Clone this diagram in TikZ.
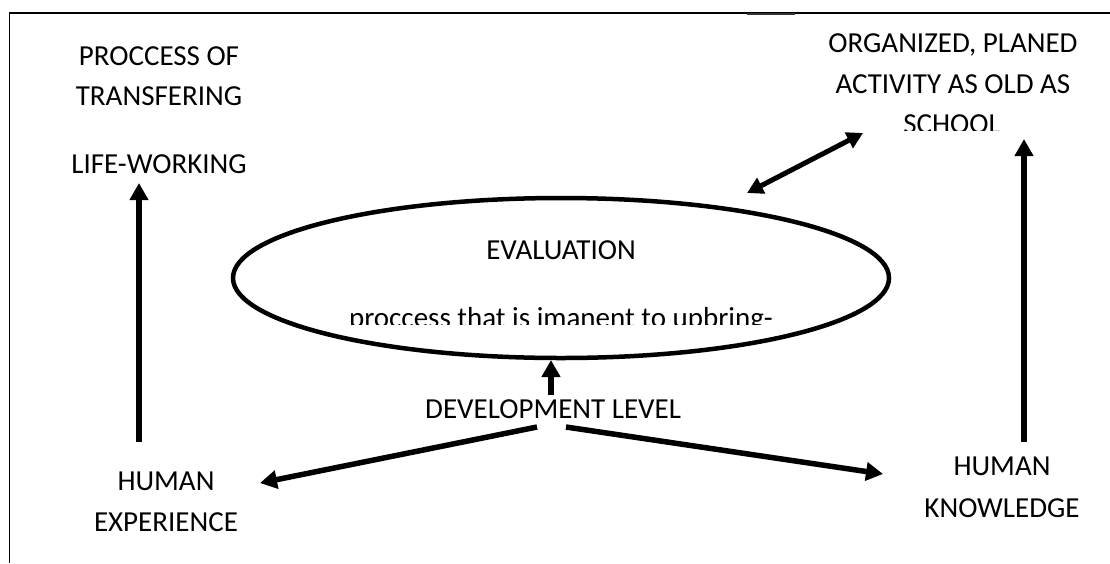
\documentclass[tikz,border=0pt]{standalone}
\usepackage{fontspec}
\setmainfont{Carlito}
\usetikzlibrary{arrows.meta,shapes.geometric}
\begin{document}
\begin{tikzpicture}[x=1pt,y=-1pt,
  txt/.style={font=\fontsize{29}{35}\selectfont, inner sep=0pt, anchor=base},
  arr/.style={line width=5.5pt, -{Triangle[width=18pt,length=17pt]}},
  darr/.style={line width=5pt, {Triangle[width=17pt,length=16pt]}-{Triangle[width=17pt,length=16pt]}},
  frameline/.style={line width=1.8pt}]
\useasboundingbox (0,0) rectangle (1110,563);
\fill[white] (0,0) rectangle (1110,563);
% frame
\coordinate (f1) at (9.5,563);
\coordinate (f2) at (9.5,13);
\coordinate (f3) at (1110,13);
\coordinate (f4) at (747,14);
\coordinate (f5) at (795,14);
\draw[frameline] (f1) -- (f2) -- (f3);
\draw[line width=1.2pt, black!80] (f4) -- (f5);
% left top texts
\node[txt] (p1) at (159,65) {PROCCESS OF};
\node[txt] (p2) at (159,105) {TRANSFERING};
\node[txt] (lw) at (159,173) {LIFE-WORKING};
% right top texts
\node[txt] (o1) at (953,52) {ORGANIZED, PLANED};
\node[txt] (o2) at (953,93) {ACTIVITY AS OLD AS};
\begin{scope}
\clip (0,0) rectangle (1110,130);
\node[txt] (o3) at (952,133) {SCHOOL};
\end{scope}
% bottom texts
\node[txt] (he1) at (166,490) {HUMAN};
\node[txt] (he2) at (166,531) {EXPERIENCE};
\node[txt] (hk1) at (1002,475) {HUMAN};
\node[txt] (hk2) at (1002,517) {KNOWLEDGE};
\node[txt, anchor=base west] (dev) at (425,418) {DEVELOPMENT LEVEL};
% ellipse
\node[draw, ellipse, line width=4.5pt, minimum width=656pt, minimum height=160pt, inner sep=0pt] (ell) at (561,278) {};
\node[txt] (ev) at (561,259) {EVALUATION};
\begin{scope}
\clip (0,0) rectangle (1110,324);
\node[txt] (proc) at (561,327) {proccess that is imanent to upbring-};
\end{scope}
% arrows
\coordinate (la0) at (139,442);
\coordinate (la1) at (139,183);
\draw[arr] (la0) -- (la1);
\coordinate (ra0) at (1024,442);
\coordinate (ra1) at (1024,139);
\draw[arr] (ra0) -- (ra1);
\coordinate (d0) at (747,193);
\coordinate (d1) at (863,133);
\draw[darr] (d0) -- (d1);
\coordinate (u0) at (551,395);
\coordinate (u1) at (551,360);
\draw[arr] (u0) -- (u1);
\coordinate (l0) at (537,427);
\coordinate (l1) at (260,483);
\draw[arr] (l0) -- (l1);
\coordinate (r0) at (566,427);
\coordinate (r1) at (883,474);
\draw[arr] (r0) -- (r1);
\end{tikzpicture}
\end{document}
